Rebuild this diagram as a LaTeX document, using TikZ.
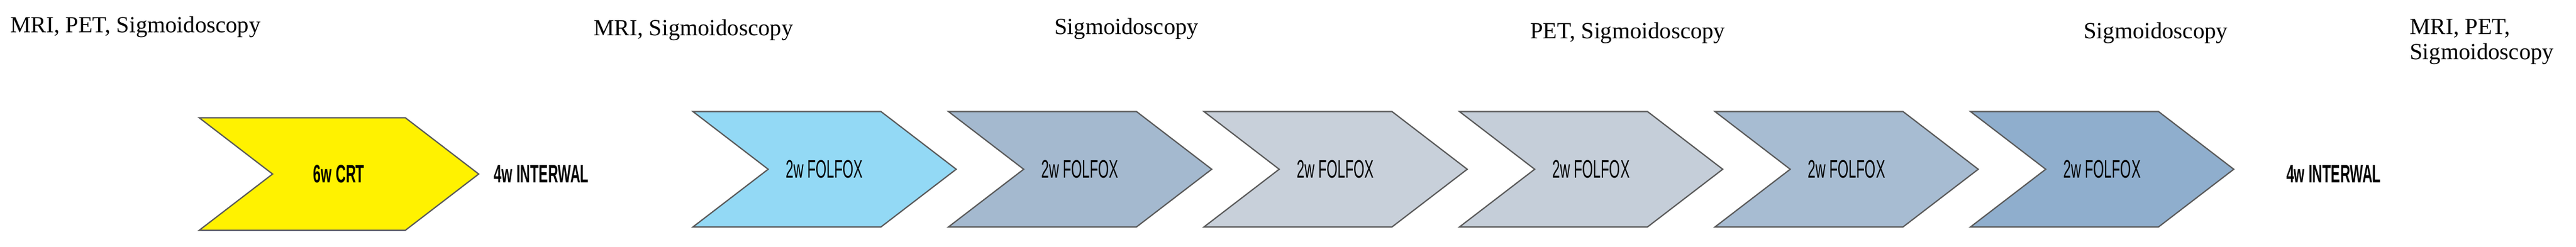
\documentclass[tikz,border=0pt]{standalone}
\usepackage{fontspec}
\setmainfont{Liberation Serif}
\setsansfont{Liberation Sans}
\usetikzlibrary{shapes.symbols}
\newcommand{\narrowtxt}[1]{\scalebox{0.55}[1]{#1}}
\tikzset{
  phase/.style={shape=signal, signal from=west, signal to=east, signal pointer angle=75,
    draw=black!65, line width=0.6pt, minimum width=4.4cm, minimum height=1.93cm,
    inner sep=0pt, font=\sffamily\fontsize{12}{13}\selectfont},
  exam/.style={font=\fontsize{11}{13}\selectfont, align=left, anchor=west},
  gap/.style={font=\sffamily\bfseries\fontsize{12}{13}\selectfont}
}
\begin{document}
\begin{tikzpicture}
    \useasboundingbox (0,0) rectangle (43.05,4.13);
    % treatment phases
    \node [phase, fill=yellow, minimum width=4.67cm, minimum height=1.88cm,
      font=\sffamily\bfseries\fontsize{12}{13}\selectfont] (crt) at (5.665,1.22) {\narrowtxt{6w CRT}};
    \node [gap] (int1) at (9.05,1.22) {\narrowtxt{4w INTERWAL}};
    \node [phase, fill={rgb,255:red,147;green,217;blue,245}] (f1) at (13.78,1.30) {\narrowtxt{2w FOLFOX}};
    \node [phase, fill={rgb,255:red,164;green,185;blue,207}] (f2) at (18.05,1.30) {\narrowtxt{2w FOLFOX}};
    \node [phase, fill={rgb,255:red,200;green,208;blue,218}] (f3) at (22.32,1.30) {\narrowtxt{2w FOLFOX}};
    \node [phase, fill={rgb,255:red,197;green,206;blue,217}] (f4) at (26.59,1.30) {\narrowtxt{2w FOLFOX}};
    \node [phase, fill={rgb,255:red,167;green,188;blue,210}] (f5) at (30.86,1.30) {\narrowtxt{2w FOLFOX}};
    \node [phase, fill={rgb,255:red,143;green,174;blue,205}] (f6) at (35.13,1.30) {\narrowtxt{2w FOLFOX}};
    \node [gap] (int2) at (39.0,1.22) {\narrowtxt{4w INTERWAL}};
    % examinations
    \node [exam] (e1) at (0.05,3.68) {MRI, PET, Sigmoidoscopy};
    \node [exam] (e2) at (9.8,3.63) {MRI, Sigmoidoscopy};
    \node [exam] (e3) at (17.5,3.65) {Sigmoidoscopy};
    \node [exam] (e4) at (25.45,3.58) {PET, Sigmoidoscopy};
    \node [exam] (e5) at (34.7,3.58) {Sigmoidoscopy};
    \node [exam, font=\fontsize{11}{12}\selectfont] (e6) at (40.15,3.43) {MRI, PET,\\Sigmoidoscopy};
\end{tikzpicture}
\end{document}
